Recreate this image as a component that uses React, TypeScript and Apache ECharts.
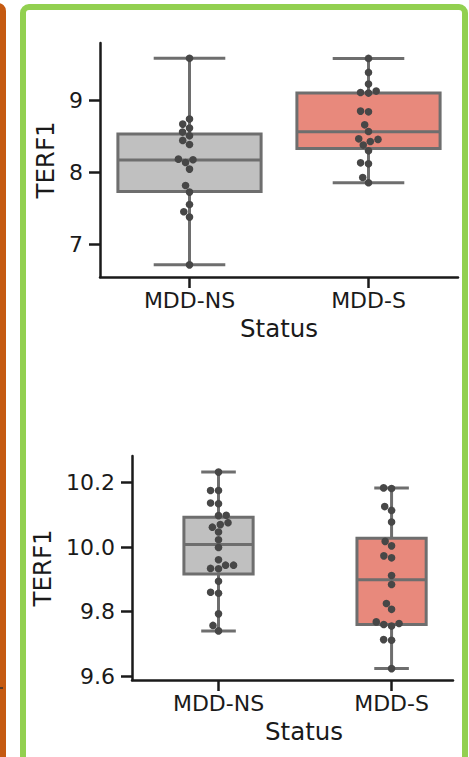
import React, { useEffect, useRef } from 'react';
import * as echarts from 'echarts';

// ---------- data ----------
const categories = ['MDD-NS', 'MDD-S'];

const topNsValues = [9.59, 8.744, 8.674, 8.618, 8.563, 8.511, 8.446, 8.39, 8.186, 8.177, 8.139, 8.047, 7.819, 7.727, 7.554, 7.453, 7.379, 6.714];
const topSValues = [9.588, 9.393, 9.231, 9.134, 9.114, 9.106, 8.855, 8.845, 8.664, 8.571, 8.469, 8.46, 8.432, 8.382, 8.302, 8.135, 8.121, 7.93, 7.857];
const topNsBox = [6.714, 7.735, 8.173, 8.535, 9.59];
const topSBox = [7.857, 8.334, 8.567, 9.106, 9.588];
const topYTicks = [7, 8, 9];

const bottomNsValues = [10.233, 10.176, 10.176, 10.137, 10.135, 10.099, 10.098, 10.076, 10.07, 10.062, 10.047, 10.023, 9.999, 9.961, 9.944, 9.944, 9.934, 9.933, 9.894, 9.86, 9.857, 9.793, 9.757, 9.74];
const bottomSValues = [10.184, 10.182, 10.126, 10.114, 10.078, 10.018, 10.004, 9.973, 9.967, 9.912, 9.884, 9.825, 9.807, 9.768, 9.763, 9.76, 9.755, 9.713, 9.711, 9.623];
const bottomNsBox = [9.74, 9.917, 10.008, 10.093, 10.233];
const bottomSBox = [9.623, 9.76, 9.899, 10.028, 10.184];
const bottomYTicks = [9.6, 9.8, 10.0, 10.2];

// ---------- styles ----------
const FONT = 'DejaVu Sans';
const TEXT = '#1a1a1a';
const BOX_FILLS = ['#c0c0c0', '#e8897c'];
const EDGE = '#6e6e6e';
const POINT = '#474747';
const POINT_R = 3.8;
const SWARM_D = 7.6;

function swarmOffsets(ys: number[], d: number): number[] {
  const order = ys.map((_, i) => i).sort((a, b) => ys[b] - ys[a]);
  const placed: { x: number; y: number }[] = [];
  const out = new Array(ys.length).fill(0);
  for (const i of order) {
    const y = ys[i];
    const nb = placed.filter((p) => Math.abs(p.y - y) < d);
    const cands = [0];
    let leftFirst = true;
    for (const n of nb) {
      const dx = Math.sqrt(Math.max(d * d - (n.y - y) ** 2, 0)) * 1.05;
      if (leftFirst) cands.push(n.x - dx, n.x + dx);
      else cands.push(n.x + dx, n.x - dx);
      leftFirst = !leftFirst;
    }
    const sorted = cands.map((c, k) => ({ c, k })).sort((a, b) => Math.abs(a.c) - Math.abs(b.c) || a.k - b.k);
    let chosen = 0;
    for (const { c } of sorted) {
      if (nb.every((n) => (n.x - c) ** 2 + (n.y - y) ** 2 >= d * d - 1e-6)) {
        chosen = c;
        break;
      }
    }
    placed.push({ x: chosen, y });
    out[i] = chosen;
  }
  return out;
}

function boxSeries(gridIdx: number, boxes: number[][], widthFrac: number) {
  return {
    type: 'custom',
    xAxisIndex: gridIdx,
    yAxisIndex: gridIdx,
    z: 2,
    encode: { x: 0, y: [1, 2, 3, 4, 5] },
    data: boxes.map((b, i) => ({ value: [i, ...b], itemStyle: { color: BOX_FILLS[i] } })),
    renderItem: (params: any, api: any) => {
      const x = api.value(0);
      const mn = api.value(1), q1 = api.value(2), md = api.value(3), q3 = api.value(4), mx = api.value(5);
      const bw = api.size([widthFrac, 0], [x, md])[0];
      const pMin = api.coord([x, mn]);
      const pQ1 = api.coord([x, q1]);
      const pMd = api.coord([x, md]);
      const pQ3 = api.coord([x, q3]);
      const pMx = api.coord([x, mx]);
      const cx = pMd[0];
      const half = bw / 2;
      const cap = bw / 4;
      const ls = { stroke: EDGE, lineWidth: 3 };
      return {
        type: 'group',
        children: [
          { type: 'line', shape: { x1: cx, y1: pQ3[1], x2: cx, y2: pMx[1] }, style: ls },
          { type: 'line', shape: { x1: cx, y1: pQ1[1], x2: cx, y2: pMin[1] }, style: ls },
          { type: 'line', shape: { x1: cx - cap, y1: pMx[1], x2: cx + cap, y2: pMx[1] }, style: ls },
          { type: 'line', shape: { x1: cx - cap, y1: pMin[1], x2: cx + cap, y2: pMin[1] }, style: ls },
          {
            type: 'rect',
            shape: { x: cx - half, y: pQ3[1], width: bw, height: pQ1[1] - pQ3[1] },
            style: { fill: api.visual('color'), stroke: EDGE, lineWidth: 3 },
          },
          { type: 'line', shape: { x1: cx - half, y1: pMd[1], x2: cx + half, y2: pMd[1] }, style: ls },
        ],
      };
    },
  };
}

function swarmSeries(gridIdx: number, cat: number, values: number[]) {
  return {
    type: 'custom',
    xAxisIndex: gridIdx,
    yAxisIndex: gridIdx,
    z: 5,
    encode: { x: 0, y: 1 },
    data: values.map((v, i) => [cat, v, i]),
    renderItem: (params: any, api: any) => {
      const c = api.value(0);
      const idx = api.value(2);
      const ys = values.map((v) => api.coord([c, v])[1]);
      const offs = swarmOffsets(ys, SWARM_D);
      const p = api.coord([c, api.value(1)]);
      return {
        type: 'circle',
        shape: { cx: p[0] + offs[idx], cy: p[1], r: POINT_R },
        style: { fill: POINT },
      };
    },
  };
}

const tickLabelStyle = { fontFamily: FONT, fontSize: 22, color: TEXT };
const nameStyle = { fontFamily: FONT, fontSize: 24.5, color: TEXT };
const axisLineStyle = { lineStyle: { color: TEXT, width: 2.5 } };

function xAxisDef(gridIdx: number, min: number, max: number, namePad: number) {
  return {
    gridIndex: gridIdx,
    type: 'value',
    min,
    max,
    name: 'Status',
    nameLocation: 'middle',
    nameGap: 39,
    nameTextStyle: { ...nameStyle, padding: [0, 0, 0, namePad] },
    axisLine: { show: true, onZero: false, ...axisLineStyle },
    axisTick: { show: true, customValues: [0, 1], length: 11, lineStyle: { color: TEXT, width: 2.5 } },
    axisLabel: {
      customValues: [0, 1],
      margin: 12,
      formatter: (v: number) => categories[Math.round(v)] ?? '',
      ...tickLabelStyle,
    },
    splitLine: { show: false },
  };
}

function yAxisDef(gridIdx: number, min: number, max: number, ticks: number[], digits: number) {
  return {
    gridIndex: gridIdx,
    type: 'value',
    min,
    max,
    name: 'TERF1',
    nameLocation: 'middle',
    nameGap: 40,
    nameTextStyle: nameStyle,
    axisLine: { show: true, onZero: false, ...axisLineStyle },
    axisTick: { show: true, customValues: ticks, length: 11, lineStyle: { color: TEXT, width: 2.5 } },
    axisLabel: {
      customValues: ticks,
      margin: 17,
      formatter: (v: number) => v.toFixed(digits),
      ...tickLabelStyle,
    },
    splitLine: { show: false },
  };
}

export default function App() {
  const ref = useRef<HTMLDivElement>(null);
  useEffect(() => {
    if (!ref.current) return;
    const chart = echarts.init(ref.current, undefined, { renderer: 'svg' });
    chart.setOption({
      animation: false,
      backgroundColor: '#ffffff',
      grid: [
        { left: 100, top: 43, width: 358, height: 234, outerBoundsMode: 'none', containLabel: false },
        { left: 132, top: 456, width: 321, height: 224, outerBoundsMode: 'none', containLabel: false },
      ],
      xAxis: [xAxisDef(0, -0.5, 1.5, 0), xAxisDef(1, -0.5, 1.355, 23)],
      yAxis: [yAxisDef(0, 6.545, 9.803, topYTicks, 0), yAxisDef(1, 9.5876, 10.283, bottomYTicks, 1)],
      series: [
        boxSeries(0, [topNsBox, topSBox], 0.8),
        swarmSeries(0, 0, topNsValues),
        swarmSeries(0, 1, topSValues),
        boxSeries(1, [bottomNsBox, bottomSBox], 0.4),
        swarmSeries(1, 0, bottomNsValues),
        swarmSeries(1, 1, bottomSValues),
      ],
      graphic: [
        {
          type: 'rect',
          shape: { x: -50, y: 6, width: 53, height: 800, r: 5 },
          style: { fill: 'none', stroke: '#c55a11', lineWidth: 6 },
        },
        {
          type: 'rect',
          shape: { x: 23, y: 7, width: 442, height: 800, r: 6 },
          style: { fill: 'none', stroke: '#92d050', lineWidth: 6 },
        },
        {
          type: 'line',
          shape: { x1: 0, y1: 688, x2: 3, y2: 688 },
          style: { stroke: '#333333', lineWidth: 1.5 },
        },
      ],
    });
    return () => chart.dispose();
  }, []);
  return (
    <div
      ref={ref}
      style={{ position: 'absolute', left: 0, top: 0, width: 469, height: 757, background: '#fff' }}
    />
  );
}
